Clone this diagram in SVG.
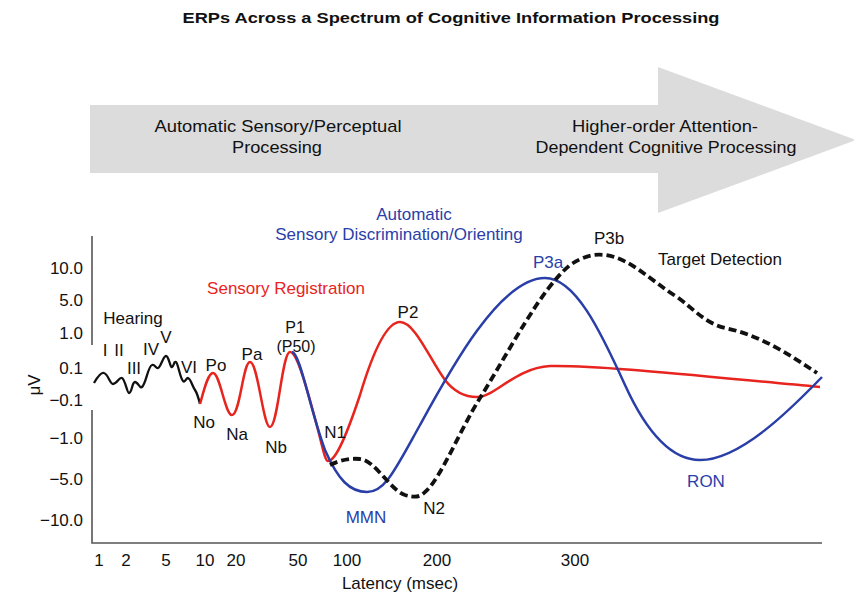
<svg xmlns="http://www.w3.org/2000/svg" width="854" height="596" viewBox="0 0 854 596">
<style>
text{font-family:"Liberation Sans",Arial,sans-serif;font-size:17px;fill:#111}
.t{font-size:17px;text-anchor:end}
.x{font-size:17px;text-anchor:middle}
.m{text-anchor:middle}
.r{fill:#e8241e}
.b{fill:#2a3ea8}
.ax{stroke:#555;stroke-width:1.6;fill:none}
.cr{fill:none;stroke:#e8241e;stroke-width:2.5}
.cb{fill:none;stroke:#2a3ea8;stroke-width:2.5}
.ck{fill:none;stroke:#111;stroke-width:2.3}
.cd{fill:none;stroke:#111;stroke-width:3.8;stroke-dasharray:8 4}
</style>
<rect width="854" height="596" fill="#fff"/>
<text x="451" y="23" class="m" textLength="537" lengthAdjust="spacingAndGlyphs" style="font-weight:bold;font-size:15px">ERPs Across a Spectrum of Cognitive Information Processing</text>
<g id="arrow">
<polygon points="90,105 658,105 658,67 856,140 658,213 658,173 90,173" fill="#dcdcdc"/>
<text x="278" y="132" class="m" textLength="247" lengthAdjust="spacingAndGlyphs">Automatic Sensory/Perceptual</text>
<text x="277" y="153" class="m" textLength="90" lengthAdjust="spacingAndGlyphs">Processing</text>
<text x="665" y="132" class="m" textLength="186" lengthAdjust="spacingAndGlyphs">Higher-order Attention-</text>
<text x="666" y="153" class="m" textLength="261" lengthAdjust="spacingAndGlyphs">Dependent Cognitive Processing</text>
</g>
<g id="axes">
<path class="ax" d="M92,236 V345 M92,410 V543 H822"/>
<text class="t" x="83" y="274">10.0</text>
<text class="t" x="83" y="306">5.0</text>
<text class="t" x="83" y="339">1.0</text>
<text class="t" x="83" y="374">0.1</text>
<text class="t" x="83" y="406">−0.1</text>
<text class="t" x="83" y="444">−1.0</text>
<text class="t" x="83" y="485">−5.0</text>
<text class="t" x="83" y="526">−10.0</text>
<text transform="translate(40,385) rotate(-90)" class="m">μV</text>
<text class="x" x="99" y="566">1</text>
<text class="x" x="126" y="566">2</text>
<text class="x" x="166" y="566">5</text>
<text class="x" x="205" y="566">10</text>
<text class="x" x="236" y="566">20</text>
<text class="x" x="298" y="566">50</text>
<text class="x" x="347" y="566">100</text>
<text class="x" x="437" y="566">200</text>
<text class="x" x="575" y="566">300</text>
<text class="x" x="400" y="589">Latency (msec)</text>
</g>
<g id="curves">
<path class="ck" d="M94,383 C98,376 101,372 104,373 C108,374 110,384 113,384 C117,384 119,377 122,378 C125,379 127,393 129,393 C132,393 132,382 135,382 C138,382 140,389 142,387 C146,384 148,366 152,365 C155,364 156,369 158,368 C161,367 163,356 166,356 C169,356 170,368 172,367 C174,366 174,361 176,362 C178,363 180,378 183,381 C185,383 186,378 188,378 C191,379 192,386 195,390 C197,393 199,400 200,404"/>
<path class="cr" d="M200,404 C204,390 208,373 213,373 C220,373 225,415 232,415 C240,415 243,362 250,362 C258,362 263,427 270,427 C278,427 282,352 290,352 C298,352 310,400 318,430 C322,445 325,461 328,461 C335,461 345,440 360,395 C375,345 388,322 400,322 C415,322 430,360 445,380 C455,393 465,397 477,397 C495,397 515,368 550,366 C600,365 700,376 820,387"/>
<path class="cb" d="M292,352 C300,352 310,410 325,450 C338,480 350,492 367,492 C385,492 395,470 420,425 C450,370 500,278 545,278 C575,278 600,330 625,385 C650,440 675,460 700,460 C740,460 790,410 822,377"/>
<path class="cd" d="M330,465 C340,460 350,458 360,459 C375,460 390,490 405,495 C415,498 420,497 425,492 C440,480 460,430 480,398 C510,350 540,290 570,265 C585,255 595,254 605,255 C630,258 650,280 677,297 C695,310 705,323 725,328 C760,335 790,355 817,373"/>
</g>
<g id="labels">
<text x="133" y="324" class="m">Hearing</text>
<text x="105" y="356" class="m">I</text>
<text x="119" y="356" class="m">II</text>
<text x="134" y="374" class="m">III</text>
<text x="151" y="355" class="m">IV</text>
<text x="166" y="343" class="m">V</text>
<text x="189" y="373" class="m">VI</text>
<text x="216" y="371" class="m">Po</text>
<text x="252" y="360" class="m">Pa</text>
<text x="204" y="428" class="m">No</text>
<text x="237" y="440" class="m">Na</text>
<text x="276" y="453" class="m">Nb</text>
<text x="295" y="333" class="m" style="font-size:16px">P1</text>
<text x="296" y="352" class="m" style="font-size:16px">(P50)</text>
<text x="335" y="438" class="m">N1</text>
<text x="408" y="318" class="m">P2</text>
<text x="366" y="523" class="m b">MMN</text>
<text x="434" y="514" class="m">N2</text>
<text x="548" y="268" class="m b">P3a</text>
<text x="609" y="244" class="m">P3b</text>
<text x="720" y="265" class="m">Target Detection</text>
<text x="706" y="487" class="m b">RON</text>
<text x="286" y="294" class="m r">Sensory Registration</text>
<text x="414" y="220" class="m b">Automatic</text>
<text x="399" y="240" class="m b">Sensory Discrimination/Orienting</text>
</g>
</svg>
